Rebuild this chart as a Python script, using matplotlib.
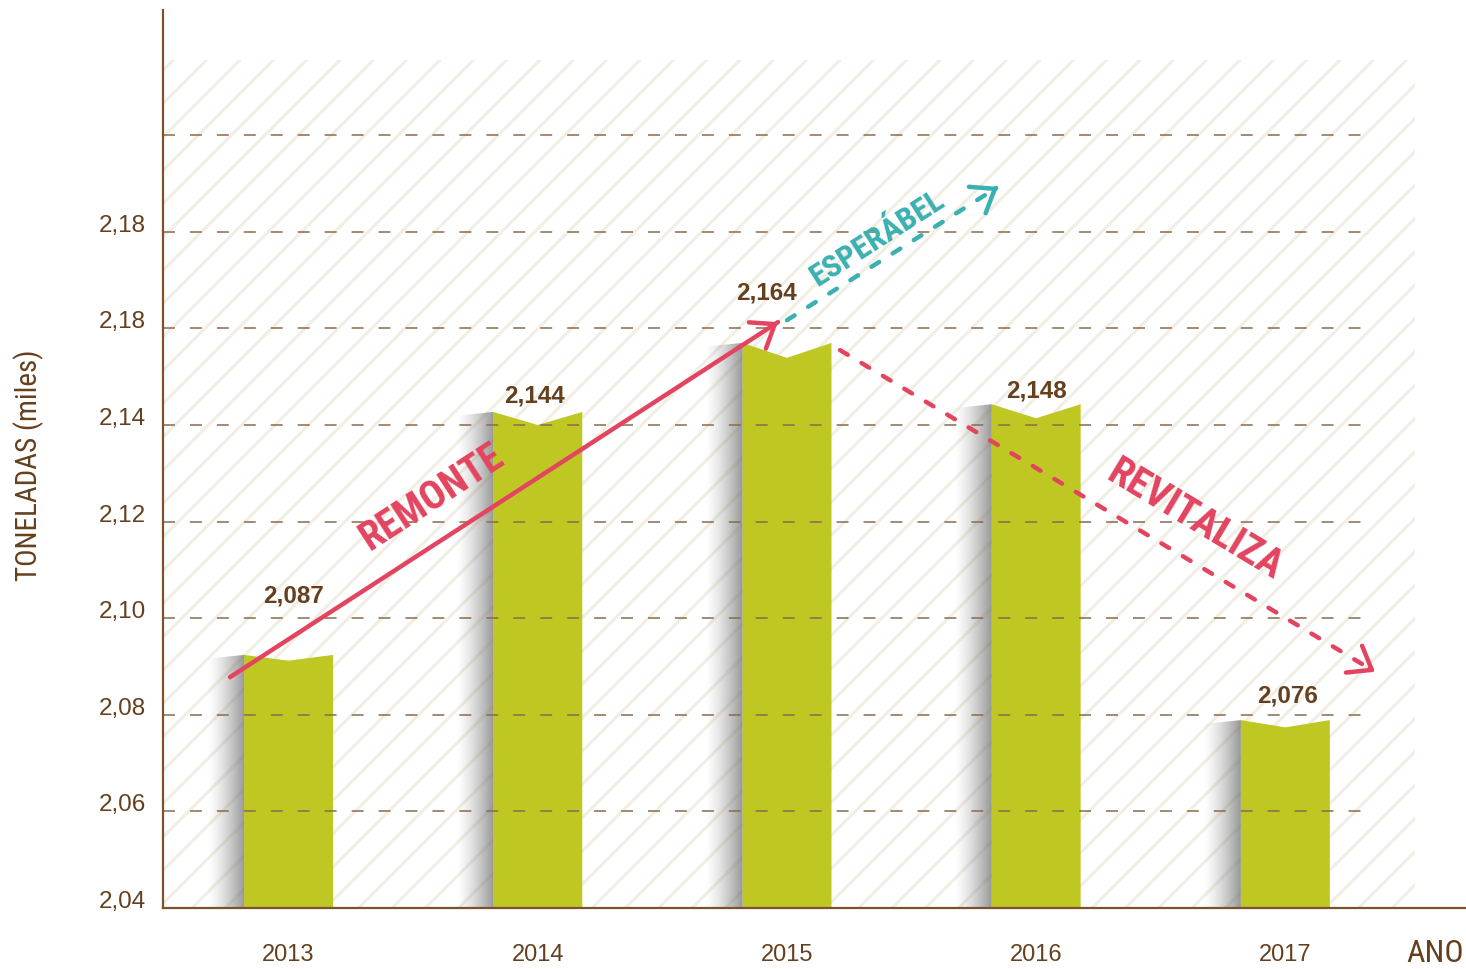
import numpy as np
import matplotlib
matplotlib.use('Agg')
import matplotlib.pyplot as plt
from matplotlib import font_manager
from matplotlib.patches import Polygon, Rectangle

# ---------------- data ----------------
years = ['2013', '2014', '2015', '2016', '2017']
bar_tops = [2.0924, 2.1427, 2.1570, 2.1443, 2.0789]
notch_depths = [0.0012, 0.0027, 0.0031, 0.0029, 0.0015]
value_labels = ['2,087', '2,144', '2,164', '2,148', '2,076']
value_label_x = [0.02, 0.985, 1.916, 3.0, 4.01]
value_label_y = [2.1046, 2.146, 2.1673, 2.147, 2.0839]
ytick_values = [2.04, 2.06, 2.08, 2.10, 2.12, 2.14, 2.16, 2.18, 2.20]
ytick_labels = ['2,04', '2,06', '2,08', '2,10', '2,12', '2,14', '2,18', '2,18', '']

# annotation arrows (data coordinates)
remonte_arrow = [(-0.235, 2.0878), (1.964, 2.1613)]
esperabel_arrow = [(2.0, 2.1617), (2.847, 2.1893)]
revitaliza_arrow = [(2.213, 2.1555), (4.36, 2.0889)]

# ---------------- fonts ----------------
ttf = font_manager.fontManager.ttflist
bold_names = {f.name for f in ttf if f.weight in (700, 'bold')}
all_names = {f.name for f in ttf}
NARROW = 'Liberation Sans'
for cand in ['Roboto Condensed', 'Asap Condensed', 'Archivo Narrow',
             'Barlow Semi Condensed', 'Barlow Condensed']:
    if cand in bold_names and cand in all_names:
        NARROW = cand
        break

plt.rcParams['font.family'] = ['Liberation Sans', 'DejaVu Sans']
plt.rcParams['lines.scale_dashes'] = False
plt.rcParams['hatch.linewidth'] = 2.2

brown = '#65401f'
spine_c = '#7b5230'
grid_c = '#8a6a4a'
green = '#bfc823'
red = '#e3445f'
teal = '#3bb0b1'
hatch_c = '#f1efe3'

fig = plt.figure(figsize=(14.66, 9.69), dpi=100)
ax = fig.add_axes([0.11119, 0.06295, 0.88813, 0.92673])
XL = (-0.504, 4.721)
YL = (2.04, 2.22592)

# hatched background
ax.add_patch(Rectangle((XL[0], YL[0]), 4.52 - XL[0], 2.2156 - YL[0],
                       facecolor='white', edgecolor=hatch_c, hatch='/',
                       linewidth=0, zorder=0))

# bars with notched tops + shadow gradient on left
half = 0.1786
shadow_w = 0.15
t = np.linspace(0, 1, 256)
grad = np.zeros((1, 256, 4))
grad[..., :3] = 0.40
grad[..., 3] = 0.68 * t ** 1.4
for i, (top, dip) in enumerate(zip(bar_tops, notch_depths)):
    x0, x1 = i - half, i + half
    poly = Polygon([(x0, YL[0]), (x0, top), (i, top - dip), (x1, top), (x1, YL[0])],
                   closed=True, facecolor=green, edgecolor='none', zorder=2)
    ax.add_patch(poly)
    clip = Polygon([(x0 - shadow_w, YL[0]), (x0 - shadow_w, top - 0.0008),
                    (x0, top), (x0, YL[0])], closed=True, transform=ax.transData)
    im = ax.imshow(grad, extent=[x0 - shadow_w, x0, YL[0], top], aspect='auto',
                   interpolation='bilinear', zorder=2)
    im.set_clip_path(clip)

# dashed gridlines (over bars)
for v in ytick_values[1:]:
    ax.plot([XL[0], 4.36], [v, v], color=grid_c, lw=1.1,
            linestyle=(0, (8.6, 10.8)), zorder=3)

# value labels
for x, y, s in zip(value_label_x, value_label_y, value_labels):
    ax.text(x, y, s, ha='center', va='center', fontsize=17.5,
            fontweight='bold', color=brown, zorder=8)

# arrows
def head(p0, p1, color):
    (xa, ya), (xb, yb) = p0, p1
    xs, ys = xb - 0.01 * (xb - xa), yb - 0.01 * (yb - ya)
    ax.annotate('', xy=(xb, yb), xytext=(xs, ys), zorder=7,
                arrowprops=dict(arrowstyle='->,head_length=0.6,head_width=0.45',
                                mutation_scale=25, color=color, lw=3.2,
                                shrinkA=0, shrinkB=0, capstyle='round',
                                joinstyle='round'))

(ax0, ay0), (ax1, ay1) = remonte_arrow
ax.plot([ax0, ax1], [ay0, ay1], color=red, lw=3.2, solid_capstyle='round', zorder=7)
head(remonte_arrow[0], remonte_arrow[1], red)

for arr, col in [(esperabel_arrow, teal), (revitaliza_arrow, red)]:
    (xa, ya), (xb, yb) = arr
    ax.plot([xa, xb], [ya, yb], color=col, lw=3.2, linestyle=(0, (6.5, 11.5)),
            dash_capstyle='round', zorder=7)
    head(arr[0], arr[1], col)

ax.text(0.575, 2.1251, 'REMONTE', rotation=33, rotation_mode='anchor',
        ha='center', va='center', fontsize=29, fontweight='bold',
        family=[NARROW, 'DejaVu Sans'], color=red, zorder=8)
ax.text(2.362, 2.1787, 'ESPERÁBEL', rotation=32.5, rotation_mode='anchor',
        ha='center', va='center', fontsize=23, fontweight='bold',
        family=[NARROW, 'DejaVu Sans'], color=teal, zorder=8)
ax.text(3.637, 2.1203, 'REVITALIZA', rotation=-31, rotation_mode='anchor',
        ha='center', va='center', fontsize=29, fontweight='bold',
        family=[NARROW, 'DejaVu Sans'], color=red, zorder=8)

# axes styling
ax.set_xlim(*XL)
ax.set_ylim(*YL)
for s in ['top', 'right']:
    ax.spines[s].set_visible(False)
for s in ['left', 'bottom']:
    ax.spines[s].set_color(spine_c)
    ax.spines[s].set_linewidth(1.6)
    ax.spines[s].set_zorder(9)

ax.set_yticks(ytick_values, ytick_labels)
ax.tick_params(axis='y', length=0, pad=12.2, labelsize=17.5, labelcolor=brown)
for lab in ax.get_yticklabels():
    lab.set_va('baseline')
ax.set_xticks(range(len(years)), years)
ax.tick_params(axis='x', length=0, pad=38.5, labelsize=17, labelcolor=brown)
for lab in ax.get_xticklabels():
    lab.set_va('baseline')

fig.text(29 / 1466, 1 - 465 / 969, 'TONELADAS (miles)', rotation=90,
         ha='center', va='center', fontsize=21, family=[NARROW, 'DejaVu Sans'],
         color=brown)
fig.text(1435 / 1466, 1 - 953 / 969, 'ANO', ha='center', va='center',
         fontsize=23, family=[NARROW, 'DejaVu Sans'], color=brown)

fig.savefig('out.png', dpi=100, facecolor='white')
